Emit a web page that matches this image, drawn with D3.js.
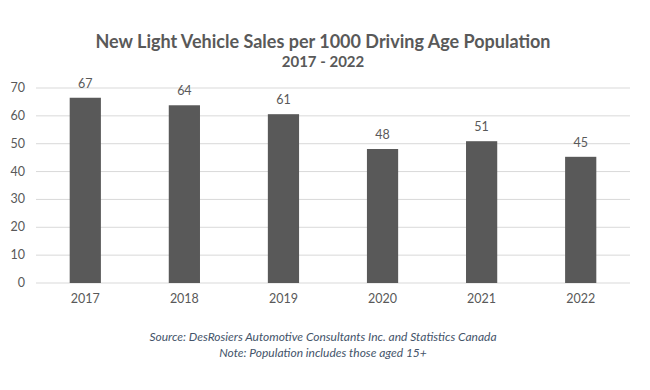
<!DOCTYPE html>
<html><head><meta charset="utf-8">
<script src="https://cdn.jsdelivr.net/npm/d3@7"></script>
<style>body{margin:0;background:#fff;}svg{display:block;font-family:Lato,"Open Sans",sans-serif;}</style>
</head><body>
<svg id="c" width="650" height="390"></svg>
<script>
const categories = ["2017","2018","2019","2020","2021","2022"];
const values = [66.5, 63.8, 60.6, 48.1, 50.9, 45.3];
const dataLabels = ["67","64","61","48","51","45"];
const yTicks = [0,10,20,30,40,50,60,70];

const svg = d3.select("#c");
const m = {left:36, right:20, top:88, bottom:107};
const W = 650, H = 390;
const x = d3.scaleBand().domain(categories).range([m.left, W - m.right]).paddingInner(0.685).paddingOuter(0.34);
const y = d3.scaleLinear().domain([0,70]).range([H - m.bottom, m.top]);

svg.append("g").selectAll("line").data(yTicks).join("line")
  .attr("x1", m.left).attr("x2", W - m.right)
  .attr("y1", d => y(d)).attr("y2", d => y(d))
  .attr("stroke", "#d9d9d9").attr("stroke-width", 1);

svg.append("g").selectAll("text").data(yTicks).join("text")
  .attr("x", 25).attr("y", d => y(d) + 4)
  .attr("text-anchor", "end").attr("font-size", 12.5).attr("fill", "#595959")
  .text(d => d);

svg.append("g").selectAll("rect").data(values).join("rect")
  .attr("x", (d,i) => x(categories[i])).attr("width", x.bandwidth())
  .attr("y", d => y(d)).attr("height", d => y(0) - y(d))
  .attr("fill", "#595959");

svg.append("g").selectAll("text").data(values).join("text")
  .attr("x", (d,i) => x(categories[i]) + x.bandwidth()/2)
  .attr("y", d => y(d) - 10)
  .attr("text-anchor", "middle").attr("font-size", 12.5).attr("fill", "#595959")
  .text((d,i) => dataLabels[i]);

svg.append("g").selectAll("text").data(categories).join("text")
  .attr("x", d => x(d) + x.bandwidth()/2).attr("y", y(0) + 20)
  .attr("text-anchor", "middle").attr("font-size", 12.5).attr("fill", "#595959")
  .text(d => d);

svg.append("text").attr("x", 323).attr("y", 48).attr("text-anchor","middle")
  .attr("font-size", 18).attr("font-weight","bold").attr("fill","#595959")
  .text("New Light Vehicle Sales per 1000 Driving Age Population");
svg.append("text").attr("x", 323).attr("y", 67).attr("text-anchor","middle")
  .attr("font-size", 15).attr("font-weight","bold").attr("fill","#595959")
  .text("2017 - 2022");

svg.append("text").attr("x", 323).attr("y", 341).attr("text-anchor","middle")
  .attr("font-size", 12).attr("font-style","italic").attr("fill","#44546a")
  .text("Source: DesRosiers Automotive Consultants Inc. and Statistics Canada");
svg.append("text").attr("x", 323).attr("y", 357).attr("text-anchor","middle")
  .attr("font-size", 12).attr("font-style","italic").attr("fill","#44546a")
  .text("Note: Population includes those aged 15+");
</script>
</body></html>
